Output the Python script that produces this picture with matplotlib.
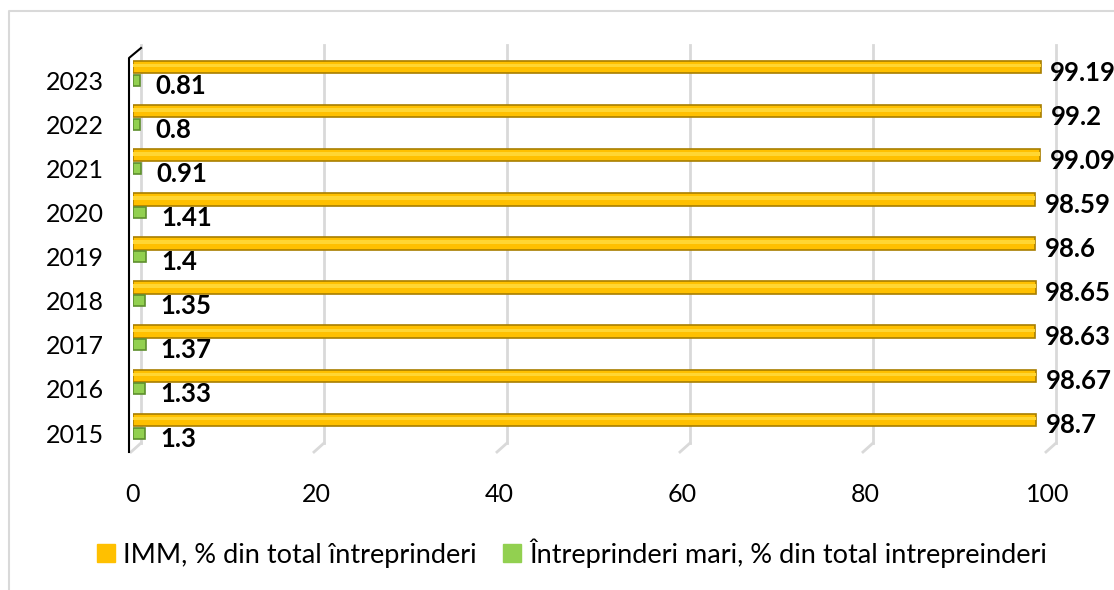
import matplotlib
matplotlib.use('Agg')
import matplotlib.pyplot as plt
import matplotlib.transforms as mtransforms
from matplotlib.lines import Line2D
from matplotlib.patches import Patch
import numpy as np

# Data
years = ['2015', '2016', '2017', '2018', '2019', '2020', '2021', '2022', '2023']
imm = [98.7, 98.67, 98.63, 98.65, 98.6, 98.59, 99.09, 99.2, 99.19]
mari = [1.3, 1.33, 1.37, 1.35, 1.4, 1.41, 0.91, 0.8, 0.81]
xticks = [0, 20, 40, 60, 80, 100]
series_names = ['IMM, % din total întreprinderi',
                'Întreprinderi mari, % din total intrepreinderi']

plt.rcParams['font.family'] = ['Lato', 'DejaVu Sans']

W, H = 1114, 590
fig = plt.figure(figsize=(W / 100, H / 100), dpi=100)
ax = fig.add_axes([133 / W, 1 - 452 / H, (1048 - 133) / W, (452 - 45) / H])

y = np.arange(len(years))
yel, grn = '#FFC000', '#92D050'

# bars (flat imitation of the excel 3d cylinders)
ax.barh(y + 0.3, imm, height=0.28, color=yel, edgecolor='#A87E00', lw=1.2, zorder=3)
ax.barh(y + 0.33, imm, height=0.08, color='#FFD633', lw=0, zorder=4)
ax.barh(y, mari, height=0.25, color=grn, edgecolor='#5E8F2E', lw=1.2, zorder=3)

# value labels
for yi, v in zip(y, imm):
    ax.annotate(f'{v:g}', (v, yi + 0.3), xytext=(7, -4), textcoords='offset points',
                ha='left', va='center', fontsize=18.5, fontweight='bold', annotation_clip=False)
for yi, v in zip(y, mari):
    ax.annotate(f'{v:g}', (v, yi), xytext=(11, -4), textcoords='offset points',
                ha='left', va='center', fontsize=18.5, fontweight='bold', annotation_clip=False)

ax.set_xlim(0, 100)
ax.set_ylim(-0.43, 8.8)
ax.set_xticks(xticks)
ax.set_yticks(y)
ax.set_yticklabels(years)
ax.tick_params(axis='y', length=0, pad=21, labelsize=18)
ax.tick_params(axis='x', length=0, pad=22, labelsize=18)
for s in ax.spines.values():
    s.set_visible(False)

# gridlines on the back wall with a small slant at the floor
back = mtransforms.offset_copy(ax.get_xaxis_transform(), fig=fig, x=8, y=0, units='dots')
front = mtransforms.offset_copy(ax.get_xaxis_transform(), fig=fig, x=-2, y=0, units='dots')
for t in xticks:
    ax.plot([t, t], [0.022, 1.0], color='#D9D9D9', lw=2, transform=back, zorder=1, clip_on=False)
    p0 = back.transform((t, 0.022))
    p1 = front.transform((t, 0.0))
    fig.add_artist(Line2D([p0[0] / W, p1[0] / W], [p0[1] / H, p1[1] / H],
                          color='#D9D9D9', lw=2, zorder=1))

# vertical axis line with its slanted top
fig.add_artist(Line2D([129 / W, 129 / W, 141 / W], [1 - 452 / H, 1 - 58 / H, 1 - 48 / H],
                      color='black', lw=1.5))

# chart frame
fig.add_artist(Line2D([9 / W, 9 / W, 1], [0, 1 - 11 / H, 1 - 11 / H], color='#D9D9D9', lw=1.5))

fig.legend(handles=[Patch(color=yel), Patch(color=grn)], labels=series_names,
           loc='center', bbox_to_anchor=(572 / W, 1 - 553 / H), ncol=2, frameon=False,
           fontsize=19.5, handlelength=0.65, handleheight=0.65, handletextpad=0.3,
           columnspacing=1.0)

fig.savefig('out.png', dpi=100)
